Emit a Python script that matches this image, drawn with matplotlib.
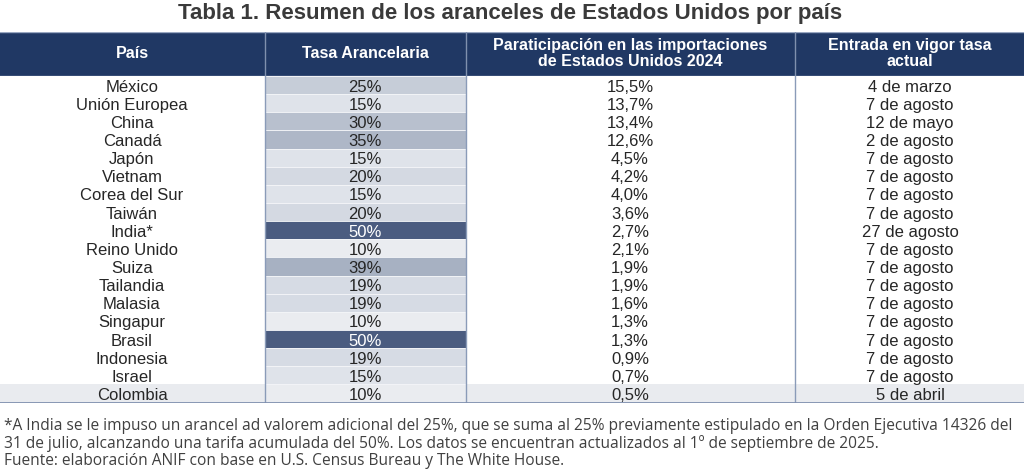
import matplotlib
matplotlib.use("Agg")
import matplotlib.pyplot as plt
from matplotlib.colors import LinearSegmentedColormap, Normalize
from matplotlib.patches import Rectangle

# ---------------- data ----------------
title = "Tabla 1. Resumen de los aranceles de Estados Unidos por país"
headers = ["País", "Tasa Arancelaria",
           "Paraticipación en las importaciones\nde Estados Unidos 2024",
           "Entrada en vigor tasa\nactual"]
countries = ["México", "Unión Europea", "China", "Canadá", "Japón", "Vietnam",
             "Corea del Sur", "Taiwán", "India*", "Reino Unido", "Suiza",
             "Tailandia", "Malasia", "Singapur", "Brasil", "Indonesia",
             "Israel", "Colombia"]
tariffs = [25, 15, 30, 35, 15, 20, 15, 20, 50, 10, 39, 19, 19, 10, 50, 19, 15, 10]
shares = [15.5, 13.7, 13.4, 12.6, 4.5, 4.2, 4.0, 3.6, 2.7, 2.1, 1.9, 1.9, 1.6,
          1.3, 1.3, 0.9, 0.7, 0.5]
dates = ["4 de marzo", "7 de agosto", "12 de mayo", "2 de agosto", "7 de agosto",
         "7 de agosto", "7 de agosto", "7 de agosto", "27 de agosto",
         "7 de agosto", "7 de agosto", "7 de agosto", "7 de agosto",
         "7 de agosto", "7 de agosto", "7 de agosto", "7 de agosto", "5 de abril"]
highlight = "Colombia"
notes = [
    "*A India se le impuso un arancel ad valorem adicional del 25%, que se suma al 25% previamente estipulado en la Orden Ejecutiva 14326 del",
    "31 de julio, alcanzando una tarifa acumulada del 50%. Los datos se encuentran actualizados al 1º de septiembre de 2025.",
    "Fuente: elaboración ANIF con base en U.S. Census Bureau y The White House.",
]

# ---------------- layout / style ----------------
W, H = 1024, 474
fig = plt.figure(figsize=(W / 100, H / 100), dpi=100)
renderer = fig.canvas.get_renderer()
FONT = ["Liberation Sans", "DejaVu Sans"]
NOTE_FONT = ["Open Sans", "DejaVu Sans"]
navy = "#203864"
line_c = "#8A9BB8"
txt_c = "#262626"

col_edges = [0, 265, 466, 795, 1024]
col_centers = [132, 365, 630, 910]

cmap = LinearSegmentedColormap.from_list(
    "tar", [(0.0, "#EAECF0"), (0.125, "#DFE3EA"), (0.25, "#D4D9E2"),
            (0.375, "#C6CDD8"), (0.5, "#B8C0CE"), (0.625, "#AEB7C7"),
            (0.725, "#A7B1C2"), (0.85, "#8593AC"), (1.0, "#4B5C80")])
norm = Normalize(vmin=10, vmax=50)


def fx(px):
    return px / W


def fy(py):
    return 1 - py / H


def fit_width(t, target_px):
    w = t.get_window_extent(renderer).width
    t.set_fontsize(t.get_fontsize() * target_px / w)
    return t.get_fontsize()


# title
tt = fig.text(fx(510), fy(19.5), title, ha="center", va="baseline", fontsize=15,
              fontweight="bold", color="#3A3A3A", family=FONT)
fit_width(tt, 670)

# header band
hdr_top, hdr_bot = 32, 75.5
hax = fig.add_axes([0, fy(hdr_bot), 1, (hdr_bot - hdr_top) / H])
hax.set_xlim(0, W)
hax.set_ylim(1, 0)
hax.axis("off")
hax.add_patch(Rectangle((0, 0), W, 1, facecolor=navy, edgecolor="none"))
hax.axhline(0, color="#9AA8C2", lw=1)
hax.axhline(1, color="#9AA8C2", lw=1)
for xe in col_edges[1:-1]:
    hax.axvline(xe, color="#7F90AE", lw=1)
for c, h in zip(col_centers, headers):
    hax.text(c, 0.5, h, ha="center", va="center", color="white",
             fontsize=11.5, fontweight="bold", family=FONT, linespacing=1.12)

# body
body_top, body_bot = 76, 402.5
n = len(countries)
ax = fig.add_axes([0, fy(body_bot), 1, (body_bot - body_top) / H])
ax.set_xlim(0, W)
ax.set_ylim(n, 0)
ax.axis("off")

rows = list(range(n))
for i, c in enumerate(countries):
    if c == highlight:
        ax.barh(i + 0.5, W, height=1, left=0, color="#E9EBEF", edgecolor="none")

ax.barh([r + 0.5 for r in rows], [col_edges[2] - col_edges[1]] * n, height=1,
        left=col_edges[1], color=[cmap(norm(t)) for t in tariffs],
        edgecolor="#F4F5F8", linewidth=0.6)

for xe in col_edges[1:-1]:
    ax.axvline(xe, color=line_c, lw=1)
ax.axhline(n, color="#7F8FAE", lw=2)

BFS = 12
for i in rows:
    y = i + 0.86
    ax.text(col_centers[0], y, countries[i], ha="center", va="baseline",
            fontsize=BFS, color=txt_c, family=FONT)
    ax.text(col_centers[1], y, f"{tariffs[i]}%", ha="center", va="baseline",
            fontsize=BFS, color="white" if tariffs[i] >= 45 else txt_c,
            family=FONT)
    ax.text(col_centers[2], y, f"{shares[i]:.1f}%".replace(".", ","),
            ha="center", va="baseline", fontsize=BFS, color=txt_c, family=FONT)
    ax.text(col_centers[3], y, dates[i], ha="center", va="baseline",
            fontsize=BFS, color=txt_c, family=FONT)

# notes
note_texts = []
for line, py in zip(notes, [430, 448, 465]):
    note_texts.append(fig.text(fx(4), fy(py), line, ha="left", va="baseline",
                               fontsize=10.5, color="#404040", family=NOTE_FONT))
nfs = fit_width(note_texts[0], 1014)
for t in note_texts[1:]:
    t.set_fontsize(nfs)

fig.savefig("out.png", dpi=100, facecolor="white")
